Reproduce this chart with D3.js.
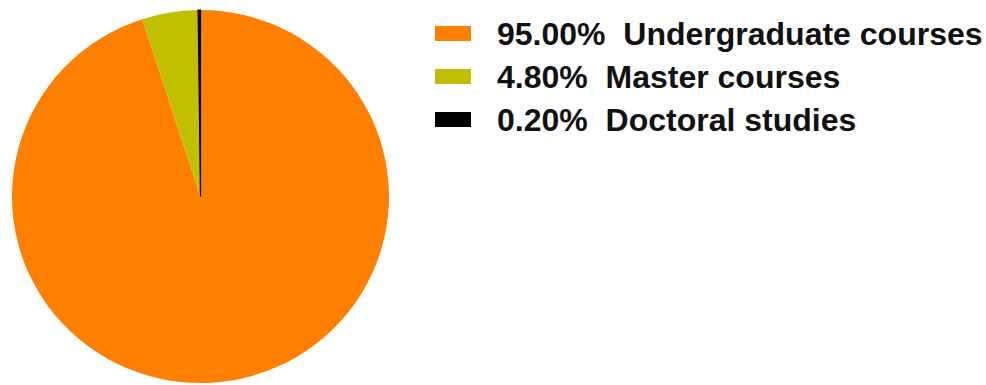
<!DOCTYPE html>
<html>
<head>
<meta charset="utf-8">
<script src="https://cdn.jsdelivr.net/npm/d3@7"></script>
<style>
  html, body { margin: 0; padding: 0; background: #fff; }
  svg { display: block; }
  text { font-family: "Liberation Sans", Arial, sans-serif; font-weight: bold; white-space: pre; }
</style>
</head>
<body>
<svg id="chart" width="986" height="385"></svg>
<script>
// Share of study programmes by level
const categories = ["Undergraduate courses", "Master courses", "Doctoral studies"];
const shares = [95.00, 4.80, 0.20];
const colors = ["#FF8000", "#C0C000", "#000000"];

const svg = d3.select("#chart");

const cx = 200.5, cy = 196.5, radius = 186.5, stretchX = 1.0107;

const pie = d3.pie().sort(null).value(d => d.value);
const arc = d3.arc().innerRadius(0).outerRadius(radius);

const data = categories.map((c, i) => ({ name: c, value: shares[i], color: colors[i] }));

const pieG = svg.append("g")
  .attr("transform", `translate(${cx},${cy}) scale(${stretchX},1)`);

pieG.selectAll("path")
  .data(pie(data))
  .join("path")
  .attr("d", arc)
  .attr("fill", d => d.data.color)
  .attr("stroke", d => d.data.value < 1 ? d.data.color : "none")
  .attr("stroke-width", d => d.data.value < 1 ? 1.2 : 0);

// Legend
const legend = svg.append("g").attr("transform", "translate(435,0)");
const rowY = d3.scaleLinear().domain([0, 1]).range([45, 88]);

const rows = legend.selectAll("g.row")
  .data(data)
  .join("g")
  .attr("class", "row")
  .attr("transform", (d, i) => `translate(0,${rowY(i)})`);

rows.append("rect")
  .attr("x", 0)
  .attr("y", -19)
  .attr("width", 36)
  .attr("height", 15)
  .attr("fill", d => d.color);

rows.append("text")
  .attr("x", 62)
  .attr("y", 0)
  .attr("font-size", 32)
  .attr("fill", "#111")
  .text(d => `${d3.format(".2f")(d.value)}%  ${d.name}`);
</script>
</body>
</html>
